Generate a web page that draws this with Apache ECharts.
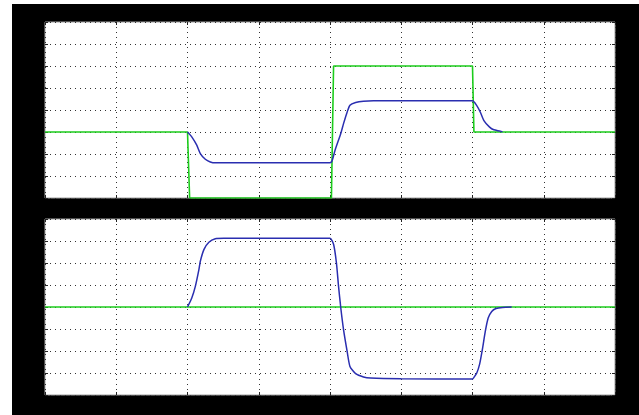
<!DOCTYPE html>
<html>
<head>
<meta charset="utf-8">
<script src="https://cdn.jsdelivr.net/npm/echarts@6/dist/echarts.min.js"></script>
<style>
html,body{margin:0;padding:0;background:#fff;width:639px;height:415px;overflow:hidden;}
#c{position:absolute;left:12px;top:4px;width:627px;height:411px;background:#000;}
</style>
</head>
<body>
<div id="c"></div>
<script>
// Upper panel: reference input (green) and response (blue)
const upperGreenX = [0, 2.0, 2.03, 4.02, 4.05, 6.0, 6.02, 8];
const upperGreenY = [0, 0, -1.5, -1.5, 1.5, 1.5, 0, 0];
const upperBlueX = [2.0, 2.06, 2.13, 2.18, 2.25, 2.32, 2.39, 3.0, 4.0, 4.03, 4.07, 4.15, 4.19, 4.24, 4.28, 4.36, 4.47, 4.61, 5.5, 6.0, 6.06, 6.11, 6.16, 6.24, 6.30, 6.39, 6.42];
const upperBlueY = [0, -0.11, -0.30, -0.49, -0.62, -0.68, -0.70, -0.70, -0.70, -0.65, -0.42, -0.04, 0.19, 0.45, 0.61, 0.67, 0.70, 0.71, 0.71, 0.71, 0.60, 0.45, 0.26, 0.11, 0.05, 0.02, 0];
// Lower panel
const lowerGreenX = [0, 8];
const lowerGreenY = [0, 0];
const lowerBlueX = [2.0, 2.06, 2.11, 2.16, 2.18, 2.23, 2.30, 2.39, 2.51, 3.2, 4.0, 4.05, 4.09, 4.12, 4.15, 4.19, 4.24, 4.28, 4.36, 4.47, 4.57, 5.0, 6.0, 6.02, 6.06, 6.10, 6.14, 6.18, 6.22, 6.27, 6.33, 6.42, 6.55];
const lowerBlueY = [0, 0.41, 0.94, 1.70, 2.08, 2.61, 2.94, 3.10, 3.12, 3.12, 3.12, 2.85, 2.01, 0.94, 0, -1.03, -2.01, -2.70, -3.03, -3.18, -3.23, -3.26, -3.27, -3.2, -3.0, -2.6, -1.9, -1.1, -0.5, -0.2, -0.07, -0.02, 0];
// Axis ranges / ticks
const xMin = 0, xMax = 8, xStep = 1;
const upperYMin = -1.5, upperYMax = 2.5, upperYStep = 0.5;
const lowerYMin = -4, lowerYMax = 4, lowerYStep = 1;

const zip = (xs, ys) => xs.map((x, i) => [x, ys[i]]);

const grid = (top) => ({
  left: 33, width: 570, top: top, height: 176,
  show: true, backgroundColor: '#fff', borderColor: '#a0a0a0', borderWidth: 1
});
const split = {show: true, lineStyle: {color: '#333', width: 1, type: [1, 4]}};
const tick = {show: true, inside: true, length: 3, lineStyle: {color: '#222', width: 1}};

function xAx(gi, pos, withSplit) {
  return {type: 'value', gridIndex: gi, min: xMin, max: xMax, interval: xStep, position: pos,
    axisLine: {show: false, onZero: false}, axisLabel: {show: false}, axisTick: tick,
    splitLine: withSplit ? split : {show: false}};
}
function yAx(gi, pos, mn, mx, st, withSplit) {
  return {type: 'value', gridIndex: gi, min: mn, max: mx, interval: st, position: pos,
    axisLine: {show: false, onZero: false}, axisLabel: {show: false}, axisTick: tick,
    splitLine: withSplit ? split : {show: false}};
}

const chart = echarts.init(document.getElementById('c'), null, {renderer: 'canvas'});
chart.setOption({
  animation: false,
  backgroundColor: '#000',
  grid: [grid(18), grid(215)],
  xAxis: [xAx(0, 'bottom', true), xAx(0, 'top', false), xAx(1, 'bottom', true), xAx(1, 'top', false)],
  yAxis: [
    yAx(0, 'left', upperYMin, upperYMax, upperYStep, true),
    yAx(0, 'right', upperYMin, upperYMax, upperYStep, false),
    yAx(1, 'left', lowerYMin, lowerYMax, lowerYStep, true),
    yAx(1, 'right', lowerYMin, lowerYMax, lowerYStep, false)
  ],
  series: [
    {type: 'line', xAxisIndex: 0, yAxisIndex: 0, data: zip(upperGreenX, upperGreenY), showSymbol: false,
      lineStyle: {color: '#1ccc1c', width: 1.6}, z: 3},
    {type: 'line', xAxisIndex: 0, yAxisIndex: 0, data: zip(upperBlueX, upperBlueY), showSymbol: false,
      smooth: 0.2, lineStyle: {color: '#2a2eb0', width: 1.5}, z: 4},
    {type: 'line', xAxisIndex: 2, yAxisIndex: 2, data: zip(lowerGreenX, lowerGreenY), showSymbol: false,
      lineStyle: {color: '#1ccc1c', width: 1.6}, z: 3},
    {type: 'line', xAxisIndex: 2, yAxisIndex: 2, data: zip(lowerBlueX, lowerBlueY), showSymbol: false,
      smooth: 0.2, lineStyle: {color: '#2a2eb0', width: 1.5}, z: 4}
  ]
});
</script>
</body>
</html>
